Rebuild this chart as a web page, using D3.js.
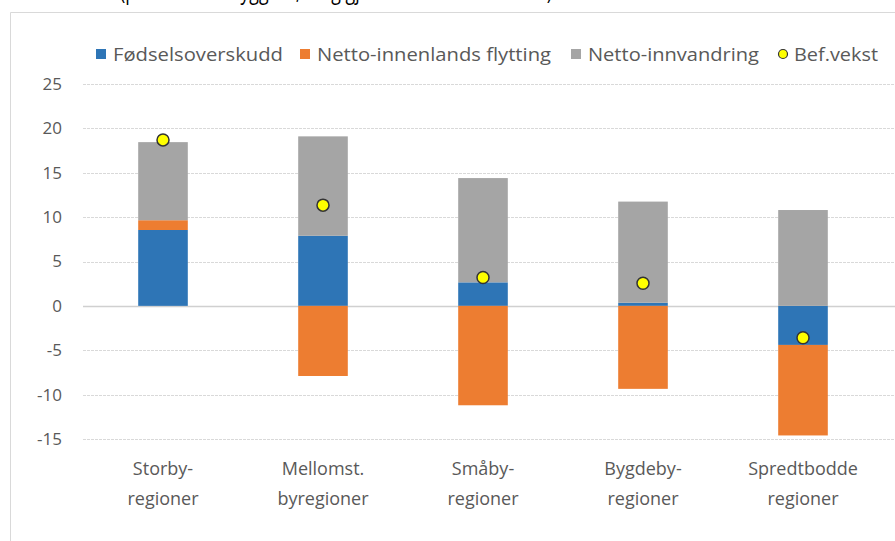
<!DOCTYPE html>
<html><head><meta charset="utf-8">
<script src="https://cdn.jsdelivr.net/npm/d3@7"></script>
<style>body{margin:0;background:#fff}svg{display:block;font-family:"Open Sans","Liberation Sans",sans-serif}</style>
</head><body>
<svg id="c" width="895" height="541"></svg>
<script>
const categories = [["Storby-","regioner"],["Mellomst.","byregioner"],["Småby-","regioner"],["Bygdeby-","regioner"],["Spredtbodde","regioner"]];
const seriesNames = ["Fødselsoverskudd","Netto-innenlands flytting","Netto-innvandring"];
const fodsel = [8.55, 7.9, 2.65, 0.35, -4.4];
const innenlands = [1.1, -7.9, -11.2, -9.35, -10.2];
const innvandring = [8.8, 11.2, 11.75, 11.4, 10.8];
const befVekst = [18.7, 11.35, 3.2, 2.55, -3.6];
const yTicks = [25,20,15,10,5,0,-5,-10,-15];
const colors = ["#2e75b6","#ed7d31","#a5a5a5"];

const svg = d3.select("#c");
const W = 895, H = 541;
// frame
svg.append("path").attr("d","M10.5,"+H+" V12.5 H"+W).attr("fill","none").attr("stroke","#d9d9d9").attr("stroke-width",1);
// title (cut off by the top edge, as in the reference)
svg.append("text").attr("x",120).attr("y",-1).attr("font-size",24).attr("fill","#000")
  .attr("textLength",432).attr("lengthAdjust","spacingAndGlyphs")
  .text("(per 1000 innbyggere, årlig gjennomsnitt 2010-2017)");

const x = d3.scaleBand().domain(d3.range(categories.length)).range([83, 883]);
const barW = x.bandwidth()*0.31;
const y = d3.scaleLinear().domain([-15,25]).range([439,84]);

// grid
svg.append("g").selectAll("line").data(yTicks).join("line")
  .attr("x1",83).attr("x2",W).attr("y1",d=>Math.round(y(d))+0.5).attr("y2",d=>Math.round(y(d))+0.5)
  .attr("stroke",d=>d===0?"#d0d0d0":"#d9d9d9").attr("stroke-width",d=>d===0?1.5:1)
  .attr("stroke-dasharray",d=>d===0?null:"3,1");

// y axis labels
const yAxis = d3.axisLeft(y).tickValues(yTicks).tickSize(0).tickPadding(0).tickFormat(d=>String(d));
const ga = svg.append("g").attr("transform","translate(62,0)").call(yAxis);
ga.select(".domain").remove();
ga.selectAll("text").attr("font-size",17).attr("fill","#595959").attr("font-family","Open Sans");

// stacked bars
const rows = categories.map((c,i)=>({i, a:fodsel[i], b:innenlands[i], c:innvandring[i]}));
const stack = d3.stack().keys(["a","b","c"]).offset(d3.stackOffsetDiverging);
const layers = stack(rows);
svg.append("g").selectAll("g").data(layers).join("g")
  .attr("fill",(d,k)=>colors[k])
  .selectAll("rect").data(d=>d).join("rect")
  .attr("x",d=>x(d.data.i)+x.bandwidth()/2-barW/2)
  .attr("width",barW)
  .attr("y",d=>y(Math.max(d[0],d[1])))
  .attr("height",d=>Math.abs(y(d[0])-y(d[1])));

// dots
svg.append("g").selectAll("circle").data(befVekst).join("circle")
  .attr("cx",(d,i)=>x(i)+x.bandwidth()/2).attr("cy",d=>y(d)).attr("r",6)
  .attr("fill","#ffff00").attr("stroke","#333").attr("stroke-width",1.5);

// x labels
const xl = svg.append("g").selectAll("text").data(categories).join("text")
  .attr("x",(d,i)=>x(i)+x.bandwidth()/2).attr("text-anchor","middle")
  .attr("font-size",18).attr("fill","#595959");
xl.append("tspan").attr("x",(d,i)=>x(i)+x.bandwidth()/2).attr("y",475).text(d=>d[0]);
xl.append("tspan").attr("x",(d,i)=>x(i)+x.bandwidth()/2).attr("y",505).text(d=>d[1]);

// legend
const legX = [96, 300, 571, 777];
const legW = [170, 234, 171, 84];
const lg = svg.append("g");
seriesNames.forEach((n,k)=>{
  lg.append("rect").attr("x",legX[k]).attr("y",49).attr("width",10).attr("height",10).attr("fill",colors[k]);
  lg.append("text").attr("x",legX[k]+17).attr("y",61).attr("font-size",18).attr("fill","#595959")
    .attr("textLength",legW[k]).attr("lengthAdjust","spacingAndGlyphs").text(n);
});
lg.append("circle").attr("cx",legX[3]+6).attr("cy",54).attr("r",4.5).attr("fill","#ffff00").attr("stroke","#333").attr("stroke-width",1.2);
lg.append("text").attr("x",legX[3]+17).attr("y",61).attr("font-size",18).attr("fill","#595959")
  .attr("textLength",legW[3]).attr("lengthAdjust","spacingAndGlyphs").text("Bef.vekst");
</script>
</body></html>
